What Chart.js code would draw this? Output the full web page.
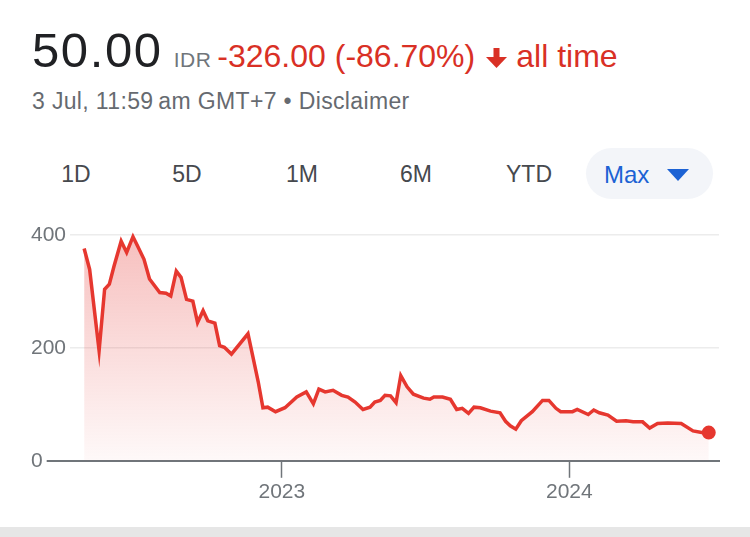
<!DOCTYPE html>
<html>
<head>
<meta charset="utf-8">
<script src="https://cdn.jsdelivr.net/npm/chart.js@4.4.1/dist/chart.umd.min.js"></script>
<style>
  html, body { margin: 0; padding: 0; background: #fff; }
  body { width: 750px; height: 537px; position: relative; overflow: hidden; font-family: "Liberation Sans", Arial, sans-serif; }
  .head { position: absolute; left: 32px; top: 26px; font-size: 49px; line-height: 49px; color: #202124; white-space: nowrap; }
  .head .big { letter-spacing: 1.6px; }
  .head .cur { font-size: 21px; color: #70757a; margin-left: 11px; letter-spacing: 0.5px; }
  .head .chg { font-size: 32px; color: #d93025; margin-left: 6px; }
  .head svg { width: 23px; height: 20px; margin-left: 10px; margin-right: 8px; vertical-align: -1px; }
  .sub { position: absolute; left: 32px; top: 90px; font-size: 23px; line-height: 23px; color: #666a70; white-space: nowrap; letter-spacing: 0.35px; }
  .btn { position: absolute; top: 163px; width: 80px; margin-left: -40px; text-align: center; font-size: 23px; line-height: 23px; color: #46494e; }
  .pill { position: absolute; left: 586px; top: 148px; width: 127px; height: 51px; border-radius: 26px; background: #f3f5f9; }
  .pill span { position: absolute; left: 18px; top: 15px; font-size: 24px; line-height: 24px; color: #1c62d4; }
  .pill svg { position: absolute; left: 81px; top: 21px; width: 22px; height: 12px; }
  #wrap { position: absolute; left: 0; top: 210px; width: 750px; height: 327px; }
  .foot { position: absolute; left: 0; top: 527px; width: 750px; height: 10px; background: #e6e6e6; }
</style>
</head>
<body>
<div class="head"><span class="big">50.00</span><span class="cur">IDR</span><span class="chg">-326.00 (-86.70%)</span><svg viewBox="0 0 23 20"><rect x="8.5" y="0" width="6" height="10" fill="#d93025"/><path d="M1 9 L22 9 L11.5 20 Z" fill="#d93025"/></svg><span class="chg" style="margin-left:0">all time</span></div>
<div class="sub">3 Jul, 11:59&thinsp;am GMT+7 • Disclaimer</div>
<div class="btn" style="left:76px">1D</div>
<div class="btn" style="left:187px">5D</div>
<div class="btn" style="left:302px">1M</div>
<div class="btn" style="left:416px">6M</div>
<div class="btn" style="left:529px">YTD</div>
<div class="pill"><span>Max</span><svg viewBox="0 0 22 12"><path d="M0 0 L22 0 L11 12 Z" fill="#1c62d4"/></svg></div>
<div id="wrap"><canvas id="myChart"></canvas></div>
<div class="foot"></div>
<script>
const dates = [
  '2022-04-25', '2022-05-02', '2022-05-14', '2022-05-21', '2022-05-27', '2022-06-02',
  '2022-06-11', '2022-06-18', '2022-06-26', '2022-07-02', '2022-07-10', '2022-07-17',
  '2022-07-30', '2022-08-07', '2022-08-13', '2022-08-20', '2022-08-26', '2022-09-02',
  '2022-09-10', '2022-09-16', '2022-09-23', '2022-09-29', '2022-10-08', '2022-10-14',
  '2022-10-20', '2022-10-29', '2022-11-19', '2022-11-25', '2022-12-02', '2022-12-08',
  '2022-12-14', '2022-12-24', '2023-01-05', '2023-01-20', '2023-02-01', '2023-02-10',
  '2023-02-17', '2023-02-25', '2023-03-07', '2023-03-18', '2023-03-26', '2023-04-04',
  '2023-04-14', '2023-04-23', '2023-04-29', '2023-05-06', '2023-05-12', '2023-05-19',
  '2023-05-26', '2023-06-01', '2023-06-09', '2023-06-17', '2023-06-30', '2023-07-08',
  '2023-07-13', '2023-07-24', '2023-08-03', '2023-08-11', '2023-08-18', '2023-08-26',
  '2023-09-02', '2023-09-10', '2023-09-23', '2023-10-05', '2023-10-12', '2023-10-18',
  '2023-10-25', '2023-11-01', '2023-11-15', '2023-11-28', '2023-12-06', '2023-12-15',
  '2023-12-21', '2024-01-05', '2024-01-11', '2024-01-25', '2024-02-01', '2024-02-08',
  '2024-02-19', '2024-03-01', '2024-03-13', '2024-03-22', '2024-04-03', '2024-04-12',
  '2024-04-22', '2024-05-05', '2024-05-22', '2024-06-06', '2024-06-17', '2024-06-26'
];
const prices = [
  376, 339, 195, 304, 313, 345,
  389, 369, 397, 380, 357, 322,
  298, 297, 292, 336, 325, 286,
  283, 245, 266, 248, 244, 204,
  201, 189, 225, 186, 140, 94,
  95, 87, 94, 113, 122, 101,
  127, 122, 125, 116, 113, 104,
  91, 95, 104, 107, 116, 115,
  103, 151, 131, 118, 111, 109,
  113, 113, 109, 91, 93, 84,
  95, 94, 88, 85, 70, 62,
  56, 71, 87, 107, 107, 93,
  87, 87, 91, 82, 90, 85,
  81, 70, 71, 69, 69, 58,
  66, 67, 66, 53, 50, 50
];
const tickDates = ['2023-01-01', '2024-01-01'];
const tickLabels = ['2023', '2024'];
const yTicks = [0, 200, 400];
const xStart = '2022-02-14';
const xEnd = '2024-07-09';

const red = '#e6372f';
const axisGray = '#70757a';

const points = dates.map((d, i) => ({ x: Date.parse(d), y: prices[i] }));
const last = points.length - 1;

const chartCtx = document.getElementById('myChart').getContext('2d');
new Chart(chartCtx, {
  type: 'line',
  data: {
    datasets: [{
      data: points,
      borderColor: red,
      borderWidth: 3.5,
      tension: 0,
      fill: 'origin',
      backgroundColor: (c) => {
        const area = c.chart.chartArea;
        if (!area) return 'rgba(229,57,53,0.1)';
        const g = c.chart.ctx.createLinearGradient(0, area.top, 0, area.bottom);
        g.addColorStop(0, 'rgba(229,57,53,0.32)');
        g.addColorStop(1, 'rgba(229,57,53,0.03)');
        return g;
      },
      pointRadius: (c) => c.dataIndex === last ? 6 : 0,
      pointBorderWidth: 2,
      pointBackgroundColor: red,
      pointBorderColor: red,
      clip: false
    }]
  },
  options: {
    responsive: true,
    maintainAspectRatio: false,
    animation: false,
    devicePixelRatio: 1,
    layout: { padding: { left: 25, right: 31, top: 25, bottom: 30 } },
    plugins: { legend: { display: false }, tooltip: { enabled: false } },
    scales: {
      x: {
        type: 'linear',
        min: Date.parse(xStart),
        max: Date.parse(xEnd),
        afterBuildTicks: (axis) => { axis.ticks = tickDates.map(d => ({ value: Date.parse(d) })); },
        border: { display: true, color: axisGray, width: 2 },
        grid: { drawOnChartArea: false, drawTicks: true, tickLength: 17, tickColor: axisGray, tickWidth: 1.5 },
        ticks: {
          autoSkip: false,
          maxRotation: 0,
          padding: 2,
          color: axisGray,
          font: { family: 'Liberation Sans', size: 21 },
          callback: (value, index) => tickLabels[index]
        }
      },
      y: {
        min: 0,
        max: 400,
        afterBuildTicks: (axis) => { axis.ticks = yTicks.map(v => ({ value: v })); },
        border: { display: false },
        grid: {
          drawTicks: false,
          lineWidth: 1.5,
          color: (c) => (c.tick && c.tick.value === 0) ? 'rgba(0,0,0,0)' : '#ececec'
        },
        ticks: {
          mirror: true,
          padding: 2,
          z: 1,
          color: axisGray,
          font: { family: 'Liberation Sans', size: 21 },
          showLabelBackdrop: true,
          backdropColor: '#fff',
          backdropPadding: { left: 8, right: 4, top: 1, bottom: 1 }
        }
      }
    }
  }
});
</script>
</body>
</html>
